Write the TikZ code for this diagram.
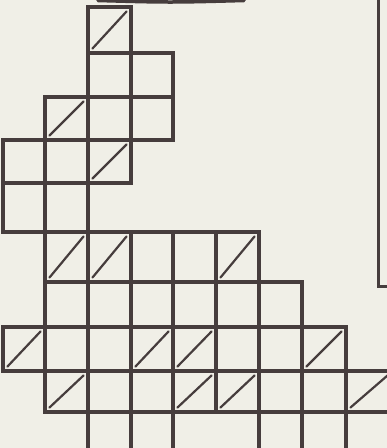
\documentclass[tikz,border=0pt]{standalone}
\usepackage{tikz}
\definecolor{gridink}{HTML}{463D3D}
\definecolor{paper}{HTML}{F0EFE7}

% column and row lines of the scanned grid (pixels)
\def\colx{{3,45,88,131,173,216,259,302,346,392}}
\def\rowy{{7,53,97,140,183,232,282,327,371,412,470}}

\newcommand{\gridcell}[2]{%
  \pgfmathsetmacro{\xa}{\colx[#1]}\pgfmathsetmacro{\xb}{\colx[#1+1]}%
  \pgfmathsetmacro{\ya}{\rowy[#2]}\pgfmathsetmacro{\yb}{\rowy[#2+1]}%
  \draw[cell] (\xa,\ya) rectangle (\xb,\yb);}
\newcommand{\gridslash}[2]{%
  \pgfmathsetmacro{\xa}{\colx[#1]}\pgfmathsetmacro{\xb}{\colx[#1+1]}%
  \pgfmathsetmacro{\ya}{\rowy[#2]}\pgfmathsetmacro{\yb}{\rowy[#2+1]}%
  \draw[slash] (\xa+4.5,\yb-4.5) -- (\xb-4.5,\ya+4.5);}

\begin{document}
\begin{tikzpicture}[x=1pt, y=-1pt,
    cell/.style={draw=gridink, line width=3.4pt},
    slash/.style={draw=gridink, line width=2.2pt, line cap=round}]
  % Page
  \fill[paper] (0,0) rectangle (387,448);
  \useasboundingbox (0,0) rectangle (387,448);
  \clip (0,0) rectangle (387,448);

  % Top shadow and text box edge
  \draw[gridink, line width=3.5pt, line cap=round] (98,0.5) .. controls (170,2.5) .. (244,0.5);
  \draw[gridink, line width=3pt] (378,-2) -- (378,286) -- (390,286);

  % Row 0
  \gridcell{2}{0}
  % Row 1
  \foreach \c in {2,3} {\gridcell{\c}{1}}
  % Row 2
  \foreach \c in {1,2,3} {\gridcell{\c}{2}}
  % Row 3
  \foreach \c in {0,1,2} {\gridcell{\c}{3}}
  % Row 4
  \foreach \c in {0,1} {\gridcell{\c}{4}}
  % Row 5
  \foreach \c in {1,...,5} {\gridcell{\c}{5}}
  % Row 6
  \foreach \c in {1,...,6} {\gridcell{\c}{6}}
  % Row 7
  \foreach \c in {0,...,7} {\gridcell{\c}{7}}
  % Row 8
  \foreach \c in {1,...,8} {\gridcell{\c}{8}}
  % Row 9 (cut off)
  \foreach \c in {2,3,6,7} {\gridcell{\c}{9}}

  % Diagonals
  \foreach \c/\r in {2/0, 1/2, 2/3, 1/5, 2/5, 5/5, 0/7, 3/7, 4/7, 7/7, 1/8, 4/8, 5/8, 8/8}
    {\gridslash{\c}{\r}}
\end{tikzpicture}
\end{document}
